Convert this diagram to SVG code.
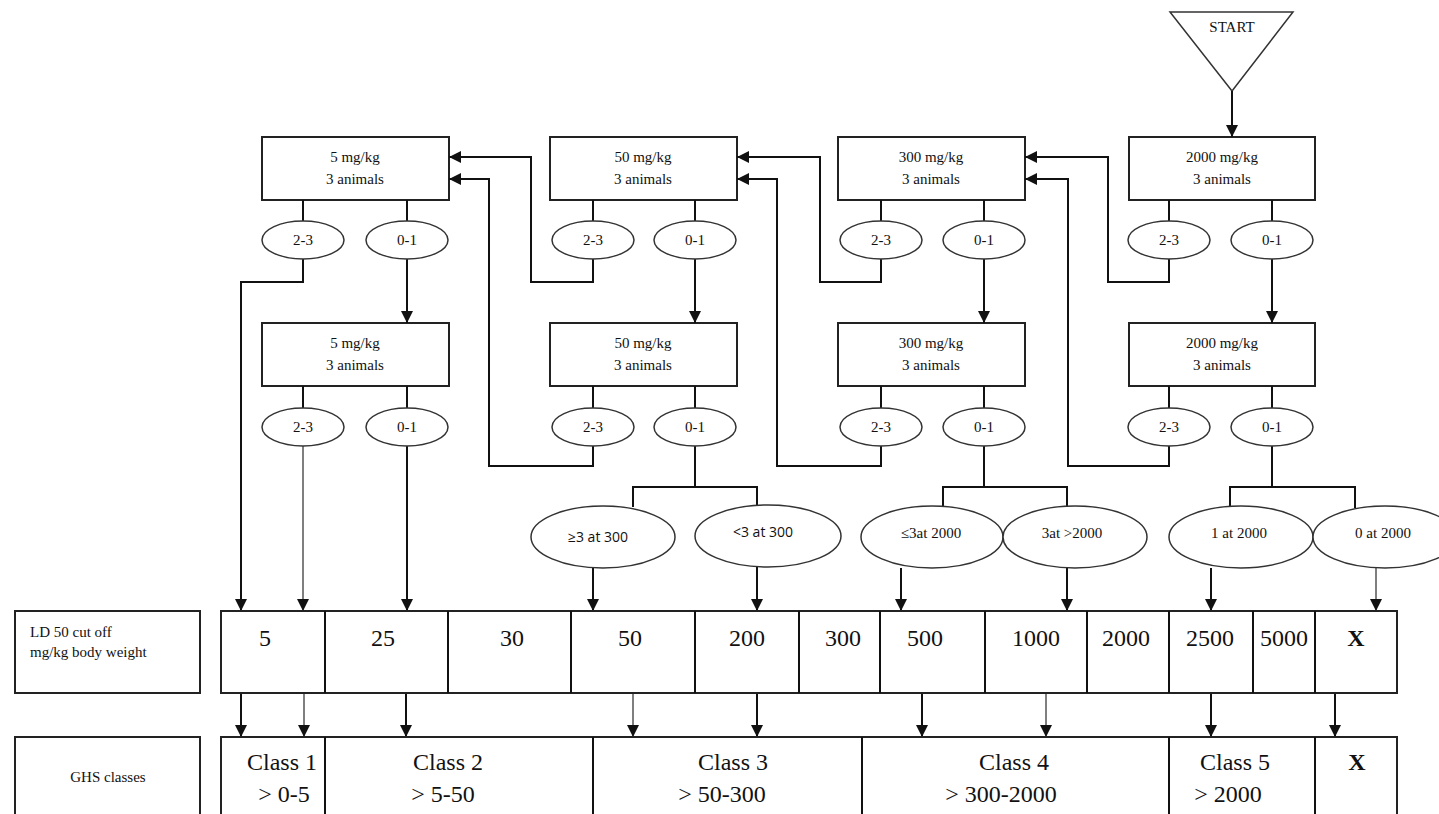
<svg xmlns="http://www.w3.org/2000/svg" width="1439" height="814" viewBox="0 0 1439 814">
<defs>
<marker id="arr" markerUnits="userSpaceOnUse" markerWidth="12" markerHeight="12" refX="12" refY="6" orient="auto" viewBox="0 0 12 12">
<path d="M0,0 L12,6 L0,12 z" fill="#111"/>
</marker>
<style>
.box{fill:#fff;stroke:#222;stroke-width:2}
.ell{fill:#fff;stroke:#333;stroke-width:1.5}
.t{font-family:"Liberation Serif",serif;font-size:15px;fill:#111;text-anchor:middle}
.ts{font-family:"Open Sans","Noto Sans",sans-serif;font-size:14px;fill:#111;text-anchor:middle}
.big{font-family:"Liberation Serif",serif;font-size:24px;fill:#111;text-anchor:middle}
.lab{font-family:"Liberation Serif",serif;font-size:15px;fill:#111}
.c{fill:none;stroke:#111;stroke-width:2}
.a{fill:none;stroke:#111;stroke-width:2;marker-end:url(#arr)}
.g{fill:none;stroke:#555;stroke-width:1.5;marker-end:url(#arr)}
</style>
</defs>
<rect width="1439" height="814" fill="#fff"/>

<g id="start">
<polygon points="1170,12 1293,12 1232,91" fill="#fff" stroke="#333" stroke-width="1.5"/>
<text x="1232" y="32" class="t" font-size="11">START</text>
</g>

<g id="box-5a"><rect x="262" y="137" width="187" height="63" class="box"/><text x="355" y="162" class="t">5 mg/kg</text><text x="355" y="184" class="t">3 animals</text></g>
<g id="box-50a"><rect x="550" y="137" width="187" height="63" class="box"/><text x="643" y="162" class="t">50 mg/kg</text><text x="643" y="184" class="t">3 animals</text></g>
<g id="box-300a"><rect x="838" y="137" width="187" height="63" class="box"/><text x="931" y="162" class="t">300 mg/kg</text><text x="931" y="184" class="t">3 animals</text></g>
<g id="box-2000a"><rect x="1129" y="137" width="186" height="63" class="box"/><text x="1222" y="162" class="t">2000 mg/kg</text><text x="1222" y="184" class="t">3 animals</text></g>

<g id="box-5b"><rect x="262" y="323" width="187" height="63" class="box"/><text x="355" y="348" class="t">5 mg/kg</text><text x="355" y="370" class="t">3 animals</text></g>
<g id="box-50b"><rect x="550" y="323" width="187" height="63" class="box"/><text x="643" y="348" class="t">50 mg/kg</text><text x="643" y="370" class="t">3 animals</text></g>
<g id="box-300b"><rect x="838" y="323" width="187" height="63" class="box"/><text x="931" y="348" class="t">300 mg/kg</text><text x="931" y="370" class="t">3 animals</text></g>
<g id="box-2000b"><rect x="1129" y="323" width="186" height="63" class="box"/><text x="1222" y="348" class="t">2000 mg/kg</text><text x="1222" y="370" class="t">3 animals</text></g>

<g id="connectors">
<path class="c" d="M303 200V221 M407 200V221 M593 200V221 M695 200V221 M881 200V221 M984 200V221 M1169 200V221 M1272 200V221"/>
<path class="c" d="M303 386V408 M407 386V408 M593 386V408 M695 386V408 M881 386V408 M984 386V408 M1169 386V408 M1272 386V408"/>
<path class="a" d="M1232 91V137"/>
<path class="a" d="M303 259V282H241V611"/>
<path class="a" d="M407 259V323"/>
<path class="a" d="M593 259V282H531V157H449"/>
<path class="a" d="M593 446V466H489V179H449"/>
<path class="a" d="M695 259V323"/>
<path class="a" d="M881 259V282H820V157H737"/>
<path class="a" d="M881 446V466H777V179H737"/>
<path class="a" d="M984 259V323"/>
<path class="a" d="M1169 259V282H1108V157H1025"/>
<path class="a" d="M1169 446V466H1068V179H1025"/>
<path class="a" d="M1272 259V323"/>
<path class="g" d="M303 446V611"/>
<path class="a" d="M407 446V611"/>
<path class="c" d="M695 446V487 M633 507V487H757V507"/>
<path class="c" d="M984 446V487 M943 508V487H1067V508"/>
<path class="c" d="M1272 446V487 M1230 508V487H1355V508"/>
<path class="a" d="M593 568V611"/>
<path class="a" d="M757 567V611"/>
<path class="a" d="M901 568V611"/>
<path class="a" d="M1067 568V611"/>
<path class="a" d="M1211 568V611"/>
<path class="g" d="M1376 568V611"/>
<path class="a" d="M241 693V737"/>
<path class="g" d="M304 693V737"/>
<path class="a" d="M406 693V737"/>
<path class="g" d="M633 693V737"/>
<path class="a" d="M757 693V737"/>
<path class="a" d="M922 693V737"/>
<path class="g" d="M1046 693V737"/>
<path class="a" d="M1211 693V737"/>
<path class="a" d="M1335 693V737"/>
</g>

<g id="ell-5a-23"><ellipse cx="303" cy="240" rx="41" ry="19" class="ell"/><text x="303" y="245" class="t">2-3</text></g>
<g id="ell-5a-01"><ellipse cx="407" cy="240" rx="41" ry="19" class="ell"/><text x="407" y="245" class="t">0-1</text></g>
<g id="ell-50a-23"><ellipse cx="593" cy="240" rx="41" ry="19" class="ell"/><text x="593" y="245" class="t">2-3</text></g>
<g id="ell-50a-01"><ellipse cx="695" cy="240" rx="41" ry="19" class="ell"/><text x="695" y="245" class="t">0-1</text></g>
<g id="ell-300a-23"><ellipse cx="881" cy="240" rx="41" ry="19" class="ell"/><text x="881" y="245" class="t">2-3</text></g>
<g id="ell-300a-01"><ellipse cx="984" cy="240" rx="41" ry="19" class="ell"/><text x="984" y="245" class="t">0-1</text></g>
<g id="ell-2000a-23"><ellipse cx="1169" cy="240" rx="41" ry="19" class="ell"/><text x="1169" y="245" class="t">2-3</text></g>
<g id="ell-2000a-01"><ellipse cx="1272" cy="240" rx="41" ry="19" class="ell"/><text x="1272" y="245" class="t">0-1</text></g>

<g id="ell-5b-23"><ellipse cx="303" cy="427" rx="41" ry="19" class="ell"/><text x="303" y="432" class="t">2-3</text></g>
<g id="ell-5b-01"><ellipse cx="407" cy="427" rx="41" ry="19" class="ell"/><text x="407" y="432" class="t">0-1</text></g>
<g id="ell-50b-23"><ellipse cx="593" cy="427" rx="41" ry="19" class="ell"/><text x="593" y="432" class="t">2-3</text></g>
<g id="ell-50b-01"><ellipse cx="695" cy="427" rx="41" ry="19" class="ell"/><text x="695" y="432" class="t">0-1</text></g>
<g id="ell-300b-23"><ellipse cx="881" cy="427" rx="41" ry="19" class="ell"/><text x="881" y="432" class="t">2-3</text></g>
<g id="ell-300b-01"><ellipse cx="984" cy="427" rx="41" ry="19" class="ell"/><text x="984" y="432" class="t">0-1</text></g>
<g id="ell-2000b-23"><ellipse cx="1169" cy="427" rx="41" ry="19" class="ell"/><text x="1169" y="432" class="t">2-3</text></g>
<g id="ell-2000b-01"><ellipse cx="1272" cy="427" rx="41" ry="19" class="ell"/><text x="1272" y="432" class="t">0-1</text></g>

<g id="ell-ge3-300"><ellipse cx="603" cy="537" rx="72" ry="31" class="ell"/><text x="598" y="542" class="ts">≥3 at 300</text></g>
<g id="ell-lt3-300"><ellipse cx="768" cy="536" rx="73" ry="31" class="ell"/><text x="763" y="537" class="ts">&lt;3 at 300</text></g>
<g id="ell-le3-2000"><ellipse cx="932" cy="537" rx="71" ry="31" class="ell"/><text x="931" y="538" class="t">≤3at 2000</text></g>
<g id="ell-3-gt2000"><ellipse cx="1075" cy="537" rx="72" ry="31" class="ell"/><text x="1072" y="538" class="t">3at &gt;2000</text></g>
<g id="ell-1-2000"><ellipse cx="1241" cy="537" rx="72" ry="31" class="ell"/><text x="1239" y="538" class="t">1 at 2000</text></g>
<g id="ell-0-2000"><ellipse cx="1385" cy="537" rx="72" ry="31" class="ell"/><text x="1383" y="538" class="t">0 at 2000</text></g>

<g id="ld50-label"><rect x="15" y="611" width="185" height="82" class="box"/><text x="30" y="637" class="lab">LD 50 cut off</text><text x="30" y="657" class="lab">mg/kg body weight</text></g>
<g id="ld50-row">
<rect x="221" y="611" width="1176" height="82" class="box"/>
<path class="c" d="M325 611V693 M448 611V693 M571 611V693 M695 611V693 M799 611V693 M880 611V693 M985 611V693 M1087 611V693 M1169 611V693 M1253 611V693 M1315 611V693"/>
<text x="265" y="646" class="big">5</text>
<text x="383" y="646" class="big">25</text>
<text x="512" y="646" class="big">30</text>
<text x="630" y="646" class="big">50</text>
<text x="747" y="646" class="big">200</text>
<text x="843" y="646" class="big">300</text>
<text x="925" y="646" class="big">500</text>
<text x="1036" y="646" class="big">1000</text>
<text x="1126" y="646" class="big">2000</text>
<text x="1210" y="646" class="big">2500</text>
<text x="1284" y="646" class="big">5000</text>
<text x="1356" y="646" class="big" font-weight="bold">X</text>
</g>

<g id="ghs-label"><rect x="15" y="737" width="185" height="90" class="box"/><text x="108" y="782" class="t">GHS classes</text></g>
<g id="ghs-row">
<rect x="221" y="737" width="1176" height="90" class="box"/>
<path class="c" d="M325 737V814 M593 737V814 M862 737V814 M1169 737V814 M1315 737V814"/>
<text x="282" y="770" class="big">Class 1</text><text x="284" y="802" class="big">&gt; 0-5</text>
<text x="448" y="770" class="big">Class 2</text><text x="443" y="802" class="big">&gt; 5-50</text>
<text x="733" y="770" class="big">Class 3</text><text x="722" y="802" class="big">&gt; 50-300</text>
<text x="1014" y="770" class="big">Class 4</text><text x="1001" y="802" class="big">&gt; 300-2000</text>
<text x="1235" y="770" class="big">Class 5</text><text x="1228" y="802" class="big">&gt; 2000</text>
<text x="1357" y="770" class="big" font-weight="bold">X</text>
</g>
</svg>
